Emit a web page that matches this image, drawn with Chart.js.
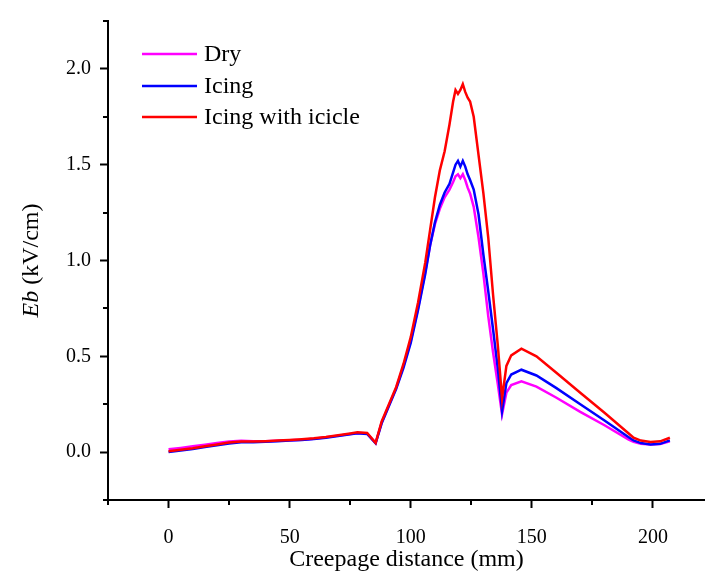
<!DOCTYPE html>
<html>
<head>
<meta charset="utf-8">
<script src="https://cdn.jsdelivr.net/npm/chart.js@4.4.1/dist/chart.umd.min.js"></script>
<style>
  html, body { margin: 0; padding: 0; background: #fff; }
  #wrap { width: 705px; height: 577px; }
</style>
</head>
<body>
<div id="wrap"><canvas id="c"></canvas></div>
<script>
// creepage distance (mm), shared by all three curves
const creepage = [0, 5, 10, 15, 20, 25, 30, 35, 40, 45,
  50, 55, 60, 65, 70, 75, 78, 82, 85.5, 88,
  91, 94, 97, 100, 103, 106, 108, 110, 112, 114,
  116, 117.5, 118.5, 119.5, 120.5, 121.5, 122.5, 123.5, 124.5, 126,
  128, 130, 132, 134, 136, 137.7, 139.5, 141.5, 145.7, 151.9,
  160, 170, 180, 190, 192, 195, 199, 203, 207]

// Eb (kV/cm)
const dry = [0.015, 0.022, 0.03, 0.039, 0.047, 0.055, 0.059, 0.056, 0.057, 0.059,
  0.062, 0.065, 0.07, 0.077, 0.086, 0.095, 0.1, 0.097, 0.047, 0.155,
  0.245, 0.335, 0.45, 0.58, 0.75, 0.94, 1.08, 1.19, 1.27, 1.33,
  1.37, 1.41, 1.44, 1.45, 1.43, 1.45, 1.42, 1.38, 1.35, 1.28,
  1.12, 0.93, 0.71, 0.52, 0.35, 0.197, 0.31, 0.35, 0.37, 0.342,
  0.285, 0.21, 0.14, 0.065, 0.053, 0.043, 0.04, 0.042, 0.056]

const icing = [0.0, 0.008, 0.016, 0.026, 0.036, 0.045, 0.051, 0.052, 0.054, 0.057,
  0.06, 0.063, 0.068, 0.075, 0.084, 0.093, 0.098, 0.095, 0.046, 0.15,
  0.24, 0.33, 0.44, 0.57, 0.74, 0.93, 1.08, 1.2, 1.29, 1.355,
  1.40, 1.46, 1.50, 1.52, 1.49, 1.52, 1.49, 1.45, 1.42, 1.37,
  1.24, 1.03, 0.84, 0.64, 0.43, 0.214, 0.36, 0.405, 0.43, 0.40,
  0.335, 0.25, 0.165, 0.078, 0.061, 0.047, 0.04, 0.043, 0.061]

const icicle = [0.005, 0.012, 0.02, 0.03, 0.04, 0.05, 0.055, 0.055, 0.057, 0.06,
  0.063, 0.067, 0.072, 0.079, 0.088, 0.097, 0.103, 0.10, 0.048, 0.16,
  0.25, 0.34, 0.46, 0.6, 0.78, 0.99, 1.16, 1.33, 1.47, 1.57,
  1.71, 1.83, 1.89, 1.87, 1.89, 1.92, 1.88, 1.85, 1.83, 1.75,
  1.55, 1.35, 1.12, 0.82, 0.55, 0.28, 0.45, 0.505, 0.54, 0.50,
  0.415, 0.31, 0.205, 0.097, 0.075, 0.06, 0.053, 0.056, 0.075]

const xTicks = [-25, 0, 25, 50, 75, 100, 125, 150, 175, 200]
const yTicks = [-0.25, 0, 0.25, 0.5, 0.75, 1.0, 1.25, 1.5, 1.75, 2.0, 2.25]

const serif = '"Liberation Serif", "Times New Roman", serif'

function pts(ys) {
  return creepage.map((x, i) => ({x: x, y: ys[i]}))
}

function xMajor(v) { return v % 50 === 0 }
function yMajor(v) { return Math.abs(v * 2 - Math.round(v * 2)) < 1e-6 }

// minor ticks, legend inside the plot, y title with italic "Eb"
const decor = {
  id: 'decor',
  afterDraw(chart) {
    const ctx = chart.ctx
    const xs = chart.scales.x, ys = chart.scales.y
    const area = chart.chartArea
    ctx.save()
    ctx.strokeStyle = '#000'
    ctx.lineWidth = 2
    xTicks.filter(v => !xMajor(v)).forEach(v => {
      const px = Math.round(xs.getPixelForValue(v))
      ctx.beginPath(); ctx.moveTo(px, area.bottom); ctx.lineTo(px, area.bottom + 5); ctx.stroke()
    })
    yTicks.filter(v => !yMajor(v)).forEach(v => {
      const py = Math.round(ys.getPixelForValue(v))
      ctx.beginPath(); ctx.moveTo(area.left, py); ctx.lineTo(area.left - 5, py); ctx.stroke()
    })

    // legend
    const rows = [54, 86, 117]
    ctx.font = '24px ' + serif
    ctx.textBaseline = 'middle'
    ctx.textAlign = 'left'
    chart.data.datasets.forEach((ds, i) => {
      ctx.strokeStyle = ds.borderColor
      ctx.lineWidth = 2.5
      ctx.beginPath(); ctx.moveTo(142, rows[i]); ctx.lineTo(197, rows[i]); ctx.stroke()
      ctx.fillStyle = '#000'
      ctx.fillText(ds.label, 204, rows[i] + 1)
    })

    // y title
    ctx.translate(32, (area.top + area.bottom) / 2)
    ctx.rotate(-Math.PI / 2)
    const a = 'Eb', b = ' (kV/cm)'
    ctx.font = 'italic 24px ' + serif
    const wa = ctx.measureText(a).width
    ctx.font = '24px ' + serif
    const wb = ctx.measureText(b).width
    let x0 = -(wa + wb) / 2
    ctx.font = 'italic 24px ' + serif
    ctx.fillText(a, x0, 0)
    ctx.font = '24px ' + serif
    ctx.fillText(b, x0 + wa, 0)
    ctx.restore()
  }
}

new Chart(document.getElementById('c'), {
  type: 'line',
  data: {
    datasets: [
      {label: 'Dry', data: pts(dry), borderColor: '#ff00ff', order: 3},
      {label: 'Icing', data: pts(icing), borderColor: '#0000ff', order: 2},
      {label: 'Icing with icicle', data: pts(icicle), borderColor: '#ff0000', order: 1}
    ]
  },
  options: {
    responsive: true,
    maintainAspectRatio: false,
    animation: false,
    layout: {padding: {top: 12, right: 0, left: 0, bottom: 0}},
    elements: {
      point: {radius: 0},
      line: {borderWidth: 2.5, tension: 0, fill: false}
    },
    plugins: {legend: {display: false}, tooltip: {enabled: false}},
    scales: {
      x: {
        type: 'linear',
        min: -25,
        max: 221.5,
        afterBuildTicks: s => { s.ticks = xTicks.map(v => ({value: v})) },
        afterFit: s => { s.height = 77 },
        ticks: {
          callback: v => xMajor(v) ? String(v) : '',
          font: {family: serif, size: 20},
          color: '#000',
          padding: 18,
          maxRotation: 0,
          autoSkip: false
        },
        grid: {
          drawOnChartArea: false,
          tickLength: 8,
          tickWidth: 2,
          tickColor: c => xMajor(c.tick.value) ? '#000' : 'rgba(0,0,0,0)'
        },
        border: {color: '#000', width: 2},
        title: {
          display: true,
          text: 'Creepage distance (mm)',
          font: {family: serif, size: 24},
          color: '#000',
          padding: {top: 0, bottom: 3}
        }
      },
      y: {
        min: -0.25,
        max: 2.25,
        afterBuildTicks: s => { s.ticks = yTicks.map(v => ({value: v})) },
        afterFit: s => { s.width = 108 },
        ticks: {
          callback: v => yMajor(v) ? v.toFixed(1) : '',
          font: {family: serif, size: 20},
          color: '#000',
          padding: 9,
          autoSkip: false
        },
        grid: {
          drawOnChartArea: false,
          tickLength: 8,
          tickWidth: 2,
          tickColor: c => yMajor(c.tick.value) ? '#000' : 'rgba(0,0,0,0)'
        },
        border: {color: '#000', width: 2}
      }
    }
  },
  plugins: [decor]
})
</script>
</body>
</html>
